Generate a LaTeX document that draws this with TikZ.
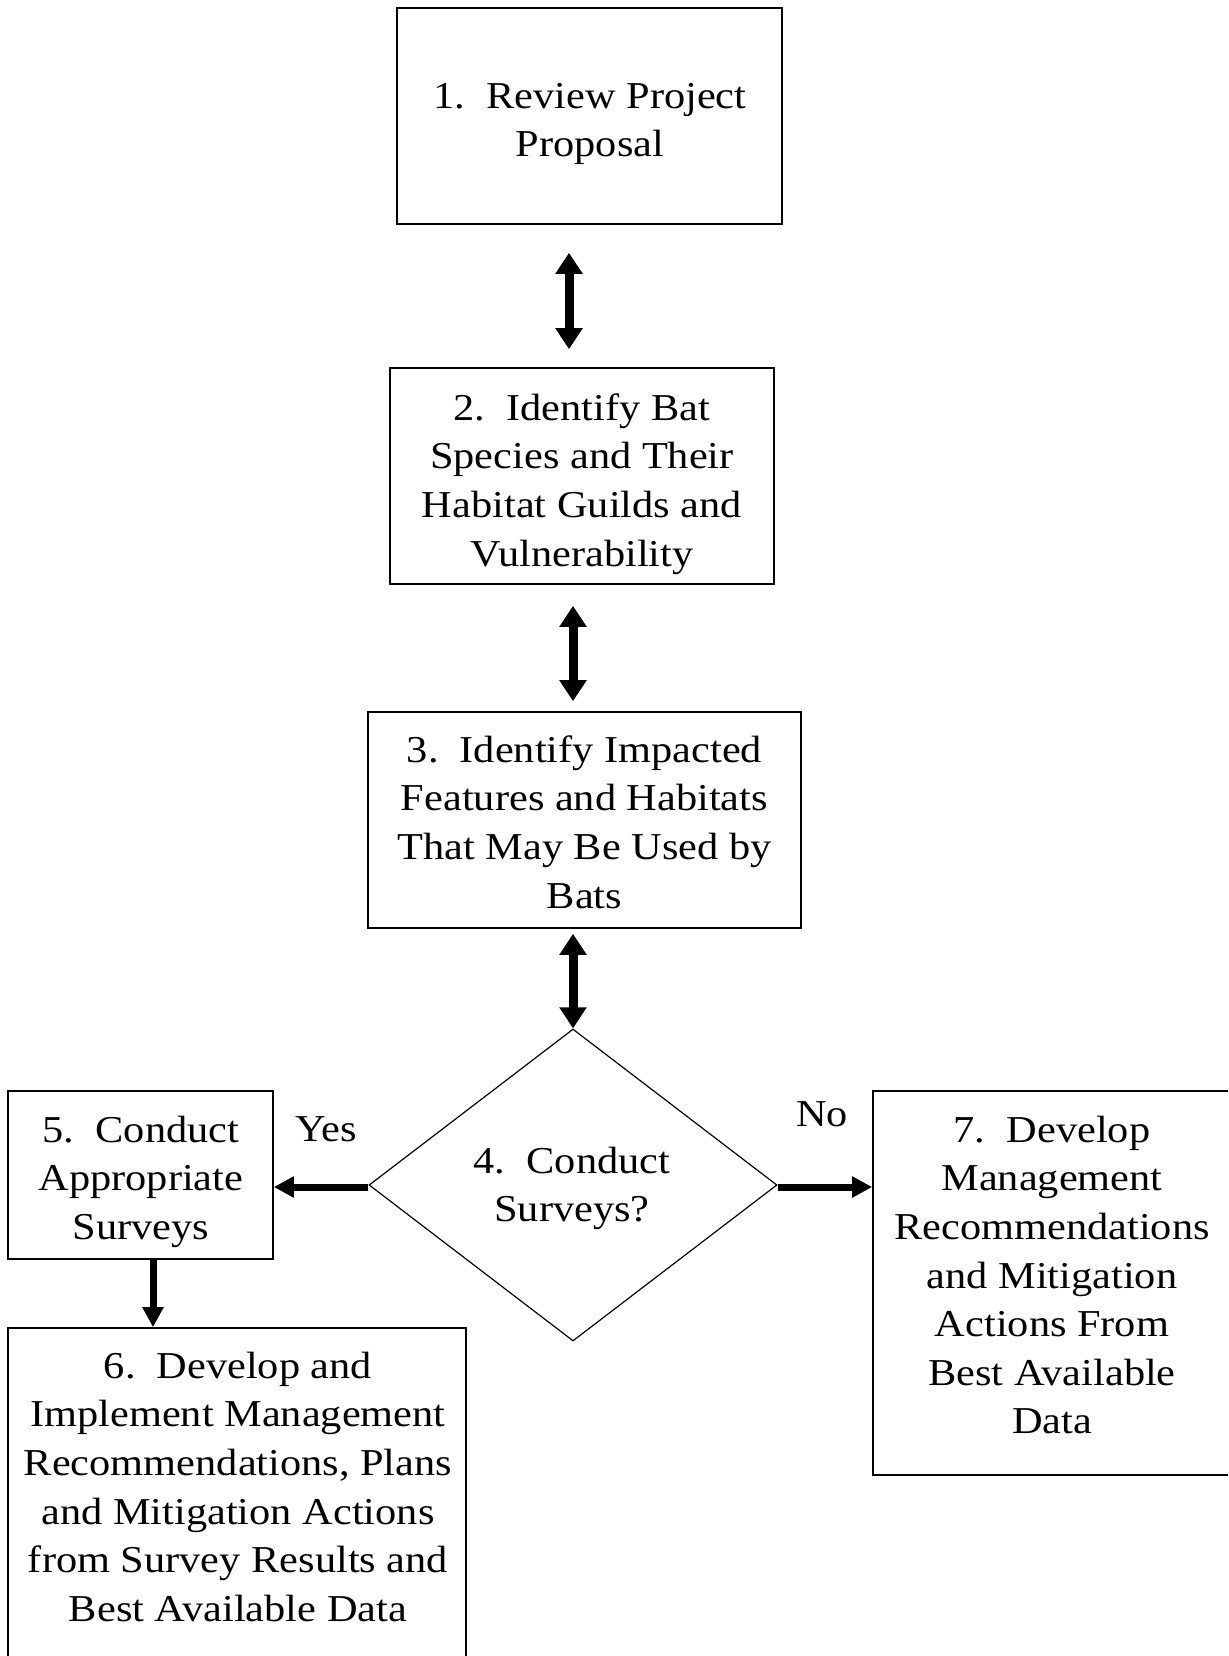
\documentclass[tikz,border=0pt]{standalone}
\usepackage{fontspec}
\setmainfont{Liberation Serif}[FakeStretch=1.115]
\usetikzlibrary{arrows.meta,shapes.geometric}
\tikzset{
  boxnode/.style={draw, line width=1.6pt, rectangle, inner sep=0pt},
  txt/.style={anchor=north, inner sep=0pt, align=center, font=\fontsize{38}{48.6}\selectfont},
  lbl/.style={anchor=base, inner sep=0pt, font=\fontsize{38}{48.6}\selectfont},
  dbl/.style={line width=9pt, {Triangle[length=21pt,width=26pt]}-{Triangle[length=21pt,width=26pt]}},
  sgl/.style={line width=7pt, -{Triangle[length=20pt,width=20pt]}},
}
\newcommand{\fst}{\rule{0pt}{30pt}}
\begin{document}
\begin{tikzpicture}[x=1pt,y=-1pt]
\useasboundingbox (0,0) rectangle (1228,1656);
\clip (0,0) rectangle (1228,1656);
% boxes
\node[boxnode, minimum width=385pt, minimum height=216pt] (b1) at (589.5,116) {};
\node[boxnode, minimum width=384pt, minimum height=216pt] (b2) at (582,476) {};
\node[boxnode, minimum width=433pt, minimum height=216pt] (b3) at (584.5,820) {};
\node[draw, line width=1.2pt, diamond, inner sep=0pt, minimum width=408pt, minimum height=312pt] (d4) at (573,1185) {};
\node[boxnode, minimum width=265pt, minimum height=168pt] (b5) at (140.5,1175) {};
\node[boxnode, minimum width=458pt, minimum height=372pt] (b6) at (237,1514) {};
\node[boxnode, minimum width=358pt, minimum height=384pt] (b7) at (1052,1283) {};
% texts
\node[txt] (t1) at (590,78) {\fst 1.\ \ Review Project\\Proposal};
\node[txt] (t2) at (582,390) {\fst 2.\ \ Identify Bat\\Species and Their\\Habitat Guilds and\\Vulnerability};
\node[txt] (t3) at (584.5,732) {\fst 3.\ \ Identify Impacted\\Features and Habitats\\That May Be Used by\\Bats};
\node[txt] (t4) at (572,1143) {\fst 4.\ \ Conduct\\Surveys?};
\node[txt] (t5) at (141,1112) {\fst 5.\ \ Conduct\\Appropriate\\Surveys};
\node[txt] (t6) at (238,1348) {\fst 6.\ \ Develop and\\Implement Management\\Recommendations, Plans\\and Mitigation Actions\\from Survey Results and\\Best Available Data};
\node[txt] (t7) at (1052,1112) {\fst 7.\ \ Develop\\Management\\Recommendations\\and Mitigation\\Actions From\\Best Available\\Data};
% labels
\node[lbl] (yes) at (326,1141) {Yes};
\node[lbl] (no) at (822,1126) {No};
% connectors
\draw[dbl] ([xshift=-20.5pt,yshift=-28pt]b1.south) -- ([xshift=-13pt,yshift=18pt]b2.north);
\draw[dbl] ([xshift=-9pt,yshift=-21pt]b2.south) -- ([xshift=-11.5pt,yshift=10pt]b3.north);
\draw[dbl] ([xshift=-11.5pt,yshift=-5pt]b3.south) -- (d4.north);
\draw[sgl] ([yshift=-2pt]d4.west) -- ([yshift=-2pt]d4.west -| b5.east);
\draw[sgl] ([yshift=-2pt]d4.east) -- ([yshift=-2pt]d4.east -| b7.west);
\draw[sgl] ([xshift=12.5pt]b5.south) -- ([xshift=12.5pt]b5.south |- b6.north);
\end{tikzpicture}
\end{document}
